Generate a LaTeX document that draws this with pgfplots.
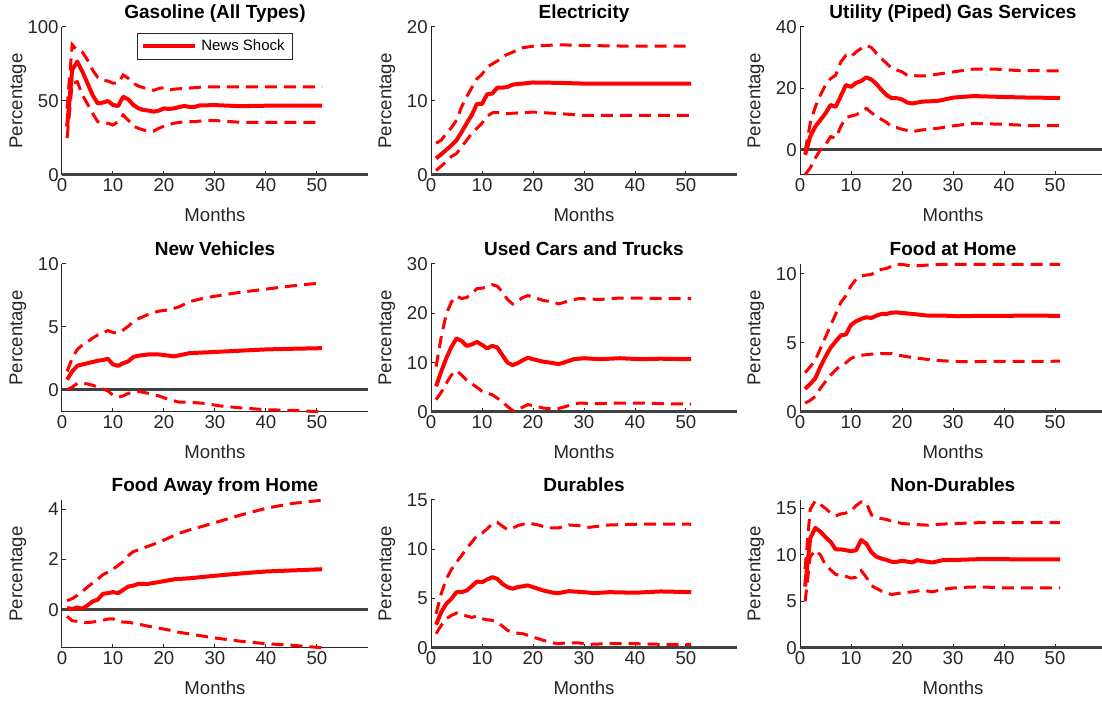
\documentclass[border=0pt]{standalone}
\usepackage{pgfplots}
\pgfplotsset{compat=1.18}
\usepackage{fontspec}
\setmainfont{Liberation Sans}
\definecolor{axc}{rgb}{0.15,0.15,0.15}
\definecolor{zc}{rgb}{0.25,0.25,0.25}
\newcommand\lab{\fontsize{9.3}{11}\selectfont}
\newcommand\ttl{\fontsize{9.5}{11}\selectfont\bfseries}

\pgfplotsset{
  panel/.style={
    anchor=south west,
    width=153pt, height=74pt, scale only axis,
    xmin=0, xmax=60, xtick={0,10,...,50},
    enlargelimits=false, clip=false,
    axis lines=left,
    axis line style={-, draw=axc, line width=0.5pt},
    tick align=inside, major tick length=2pt,
    tick style={draw=axc, line width=0.5pt},
    /pgf/number format/assume math mode=true,
    ticklabel style={font=\lab, text=axc},
    xticklabel style={inner sep=1.5pt},
    yticklabel style={inner sep=1.5pt},
    xlabel={Months}, ylabel={Percentage},
    label style={font=\lab, text=axc},
    xlabel style={at={(axis description cs:0.5,-0.27)}, anchor=center},
    ylabel style={at={(axis description cs:-0.144,0.5)}, anchor=center},
    every axis title/.style={at={(axis description cs:0.5,1)}, anchor=base,
      yshift=4.2pt, font=\ttl, text=black},
  },
  zero/.style={draw=zc, line width=1.5pt, forget plot},
  band/.style={red, line width=1.5pt, dash pattern=on 6pt off 3.5pt, forget plot},
  mid/.style={red, line width=2pt, line join=round},
}

\begin{document}
\begin{tikzpicture}
\useasboundingbox (0,0) rectangle (551pt,352pt);

% Gasoline
\begin{axis}[panel, at={(31pt,264.5pt)}, ymin=0, ymax=100, ytick={0,50,100},
  title={Gasoline (All Types)},
  legend style={at={(0.5,0.96)}, anchor=north, draw=axc, line width=0.4pt,
    font=\fontsize{7.5}{9}\selectfont, inner xsep=2pt, inner ysep=1pt},
  legend image code/.code={\draw[#1] (0pt,0pt) -- (26pt,0pt);}]
\addplot[zero] coordinates {(0,0) (60,0)};
\addplot[band] coordinates {(1,45)(2,88)(3,84)(4,83)(5,77.7)(6,71)(7,66)(8,64)(9,63.5)(10,62)(11,62)(12,67.6)(13,65.3)(14,62)(15,60)(16,59)(17,58)(18,57.2)(19,58.5)(20,59)(21,57.4)(22,58)(24,58.5)(26,59)(28,59.6)(35,59.6)(51,59.6)};
\addplot[band] coordinates {(1,25)(2,62)(3,63)(4,54)(5,48)(6,41.7)(7,36)(8,35.4)(9,35)(10,33.8)(11,36)(12,40.5)(13,37)(14,33)(15,31.5)(16,30.4)(17,29.7)(18,29.7)(19,31.6)(20,33)(22,35)(24,36)(26,36)(28,36.8)(30,36.8)(35,35.6)(51,35.6)};
\addplot[mid] coordinates {(1,32.7)(2,71)(3,76.6)(4,69.8)(5,62)(6,54)(7,48.4)(8,48.9)(9,50)(10,47.3)(11,46.6)(12,52.9)(13,51.1)(14,47.3)(15,45)(16,43.9)(17,43.5)(18,42.8)(19,43.5)(20,45)(21,44.6)(22,45)(23,46)(24,46.6)(25,46)(26,46)(27,47)(30,47.2)(35,46.5)(40,46.8)(45,46.8)(51,46.8)};
\addlegendentry{News Shock}
\end{axis}

% Electricity
\begin{axis}[panel, at={(215.5pt,264.5pt)}, ymin=0, ymax=20, ytick={0,10,20},
  title={Electricity}]
\addplot[zero] coordinates {(0,0) (60,0)};
\addplot[band] coordinates {(1,4.3)(2,4.7)(3,5.6)(4,6.4)(5,7.4)(6,9.2)(7,10.6)(8,11.8)(9,13)(10,13.6)(11,14.6)(12,15)(13,15.4)(14,16)(15,16.3)(16,16.6)(18,17.2)(20,17.4)(25,17.6)(30,17.5)(40,17.4)(51,17.4)};
\addplot[band] coordinates {(1,0.6)(2,1.2)(3,1.8)(4,2.5)(5,2.9)(6,3.8)(7,4.7)(8,5.6)(9,6.3)(10,7)(11,7.9)(12,8.4)(13,8.45)(15,8.3)(20,8.5)(25,8.3)(30,8.05)(40,8.05)(51,8.05)};
\addplot[mid] coordinates {(1,2.25)(2,2.8)(3,3.4)(4,4)(5,4.7)(6,5.8)(7,7)(8,8.1)(9,9.6)(10,9.6)(11,10.9)(12,11)(13,11.8)(14,11.8)(15,11.9)(16,12.2)(17,12.3)(18,12.35)(20,12.5)(25,12.45)(30,12.35)(40,12.35)(51,12.35)};
\end{axis}

% Utility (piped) gas
\begin{axis}[panel, at={(400pt,264.5pt)}, ymin=-8.2, ymax=40, ytick={0,20,40},
  title={Utility (Piped) Gas Services}]
\addplot[zero] coordinates {(0,0) (60,0)};
\addplot[band] coordinates {(1,-0.5)(2,8.6)(3,14)(4,17.8)(5,21.1)(6,23.2)(7,24.3)(8,28.6)(9,30.8)(10,30.3)(11,31.9)(12,33)(13,34)(14,33.3)(15,31.4)(16,29.7)(17,28.1)(18,26.5)(20,25.4)(21,24.3)(23,24.1)(25,24.1)(28,24.9)(31,25.6)(34,26.3)(38,26.3)(43,25.8)(51,25.7)};
\addplot[band] coordinates {(1,-8.1)(2,-5.9)(3,-2.7)(4,0)(5,1.6)(6,4.3)(7,3.8)(8,7.6)(9,10.5)(10,11)(11,11.4)(12,12.4)(13,13.5)(14,12.1)(15,10.8)(16,9.9)(17,8.9)(18,7.4)(19,7.2)(20,6.7)(21,6.3)(22,5.9)(24,6.5)(27,7)(30,7.8)(34,8.6)(40,8.3)(45,7.9)(51,7.9)};
\addplot[mid] coordinates {(1,-1.6)(2,4.3)(3,7.6)(4,9.7)(5,11.9)(6,14.6)(7,14)(8,17.5)(9,21.1)(10,20.5)(11,21.8)(12,22.4)(13,23.6)(14,22.9)(15,21.4)(16,19.5)(17,17.8)(18,16.8)(19,16.8)(20,16.4)(21,15.4)(22,15.1)(24,15.7)(27,15.9)(30,17)(34,17.5)(40,17.2)(45,17)(51,16.9)};
\end{axis}

% New vehicles
\begin{axis}[panel, at={(31pt,146pt)}, ymin=-1.78, ymax=10, ytick={0,5,10},
  title={New Vehicles}]
\addplot[zero] coordinates {(0,0) (60,0)};
\addplot[band] coordinates {(1,1.45)(2,2.5)(3,3.2)(4,3.55)(5,3.8)(6,4.1)(7,4.35)(8,4.5)(9,4.7)(10,4.55)(11,4.5)(12,4.75)(13,5.05)(14,5.4)(15,5.65)(17,6.0)(19,6.25)(21,6.35)(23,6.6)(25,7.0)(28,7.3)(31,7.5)(35,7.75)(40,8.0)(45,8.25)(51,8.5)};
\addplot[band] coordinates {(1,0.0)(2,0.2)(3,0.5)(4,0.5)(5,0.45)(6,0.35)(7,0.2)(8,0.05)(9,-0.1)(10,-0.45)(11,-0.6)(12,-0.5)(13,-0.3)(14,-0.2)(15,-0.15)(17,-0.3)(19,-0.5)(21,-0.8)(23,-1.0)(25,-1.0)(28,-1.1)(31,-1.3)(35,-1.45)(40,-1.6)(45,-1.65)(51,-1.77)};
\addplot[mid] coordinates {(1,0.8)(2,1.45)(3,1.9)(4,2.0)(5,2.1)(6,2.2)(7,2.3)(8,2.35)(9,2.45)(10,2.0)(11,1.9)(12,2.1)(13,2.25)(14,2.6)(15,2.7)(17,2.8)(19,2.8)(22,2.65)(25,2.9)(30,3.0)(35,3.1)(40,3.2)(45,3.25)(51,3.3)};
\end{axis}

% Used cars and trucks
\begin{axis}[panel, at={(215.5pt,146pt)}, ymin=0, ymax=30, ytick={0,10,20,30},
  title={Used Cars and Trucks}]
\addplot[zero] coordinates {(0,0) (60,0)};
\addplot[band] coordinates {(1,9.2)(2,15.2)(3,19.9)(4,22.3)(5,23.5)(6,23)(7,23.2)(8,24)(9,25)(10,25.1)(11,25.3)(12,25.8)(13,25.5)(14,24.3)(15,22.8)(16,21.9)(17,22.5)(18,23.2)(19,23.6)(20,23.3)(22,22.6)(24,22.3)(25,21.9)(27,22.5)(29,23)(33,22.8)(37,23.1)(41,23.1)(45,23)(51,23)};
\addplot[band] coordinates {(1,2.5)(2,4)(3,5.8)(4,7.5)(5,8.4)(6,7.5)(7,6.4)(8,5.7)(9,5)(10,4.2)(11,3.8)(12,3.5)(13,2.8)(14,2.1)(15,1.1)(16,0.3)(17,0.5)(18,1)(19,1.5)(20,1.3)(22,0.8)(24,0.6)(25,0.7)(27,1.3)(29,1.8)(33,1.7)(37,1.8)(41,1.8)(45,1.7)(51,1.6)};
\addplot[mid] coordinates {(1,5.2)(2,8.2)(3,10.9)(4,13.2)(5,14.9)(6,14.4)(7,13.4)(8,13.7)(9,14.2)(10,13.6)(11,12.9)(12,13.4)(13,13.1)(14,11.5)(15,10)(16,9.5)(17,9.9)(18,10.5)(19,11)(20,10.7)(22,10.2)(24,9.9)(25,9.7)(26,10)(28,10.7)(30,10.9)(33,10.7)(37,10.9)(41,10.7)(45,10.8)(51,10.7)};
\end{axis}

% Food at home
\begin{axis}[panel, at={(400pt,146pt)}, ymin=0, ymax=10.7, ytick={0,5,10},
  title={Food at Home}]
\addplot[zero] coordinates {(0,0) (60,0)};
\addplot[band] coordinates {(1,2.84)(2,3.27)(3,3.75)(4,4.58)(5,5.42)(6,6.25)(7,7.09)(8,7.92)(9,8.4)(10,9.12)(11,9.6)(12,9.83)(13,9.9)(14,9.95)(15,10.19)(16,10.31)(17,10.38)(18,10.55)(19,10.67)(20,10.67)(22,10.55)(25,10.62)(28,10.67)(35,10.67)(51,10.67)};
\addplot[band] coordinates {(1,0.64)(2,0.84)(3,1.12)(4,1.72)(5,2.2)(6,2.67)(7,3.03)(8,3.39)(9,3.56)(10,3.87)(11,4.03)(12,4.1)(14,4.18)(16,4.22)(18,4.22)(20,4.06)(22,3.94)(25,3.8)(28,3.7)(31,3.65)(35,3.65)(51,3.67)};
\addplot[mid] coordinates {(1,1.67)(2,2.03)(3,2.43)(4,3.27)(5,4.0)(6,4.65)(7,5.1)(8,5.54)(9,5.6)(10,6.3)(11,6.56)(12,6.73)(13,6.85)(14,6.8)(15,6.97)(16,7.09)(17,7.09)(18,7.18)(19,7.2)(20,7.16)(22,7.09)(25,6.97)(28,6.97)(31,6.92)(35,6.95)(40,6.95)(45,6.97)(51,6.95)};
\end{axis}

% Food away from home
\begin{axis}[panel, at={(31pt,28pt)}, ymin=-1.52, ymax=4.36, ytick={0,2,4},
  title={Food Away from Home}]
\addplot[zero] coordinates {(0,0) (60,0)};
\addplot[band] coordinates {(1,0.36)(2,0.44)(3,0.57)(4,0.73)(5,0.9)(6,1.06)(7,1.21)(8,1.39)(9,1.49)(10,1.61)(11,1.76)(12,1.91)(13,2.15)(14,2.31)(15,2.38)(17,2.53)(19,2.68)(21,2.86)(23,3.04)(25,3.17)(28,3.34)(31,3.52)(35,3.76)(40,4.03)(45,4.22)(51,4.35)};
\addplot[band] coordinates {(1,-0.26)(2,-0.44)(3,-0.46)(4,-0.49)(5,-0.51)(6,-0.49)(7,-0.46)(8,-0.42)(9,-0.37)(10,-0.36)(11,-0.46)(12,-0.49)(13,-0.5)(15,-0.57)(17,-0.66)(19,-0.73)(21,-0.81)(23,-0.9)(25,-0.96)(28,-1.06)(31,-1.15)(35,-1.25)(40,-1.35)(45,-1.41)(51,-1.51)};
\addplot[mid] coordinates {(1,0.07)(2,0.03)(3,0.09)(4,0.04)(5,0.17)(6,0.33)(7,0.4)(8,0.63)(9,0.66)(10,0.7)(11,0.66)(12,0.79)(13,0.92)(14,0.96)(15,1.03)(17,1.03)(19,1.1)(22,1.21)(25,1.25)(30,1.35)(35,1.44)(40,1.52)(45,1.56)(51,1.61)};
\end{axis}

% Durables
\begin{axis}[panel, at={(215.5pt,28pt)}, ymin=0, ymax=15, ytick={0,5,10,15},
  title={Durables}]
\addplot[zero] coordinates {(0,0) (60,0)};
\addplot[band] coordinates {(1,3.47)(2,5.49)(3,7.01)(4,7.95)(5,8.7)(6,9.37)(7,10.11)(8,10.72)(9,11.39)(10,11.63)(11,12.07)(12,12.57)(13,12.74)(14,12.34)(15,12.0)(16,12.13)(17,12.4)(19,12.67)(21,12.47)(23,12.17)(25,12.17)(27,12.47)(29,12.4)(31,12.23)(35,12.47)(40,12.54)(45,12.57)(51,12.54)};
\addplot[band] coordinates {(1,1.45)(2,2.29)(3,2.97)(4,3.3)(5,3.54)(6,3.37)(7,3.24)(8,3.1)(9,3.24)(10,2.97)(11,2.86)(12,2.8)(13,2.63)(14,2.22)(15,1.79)(16,1.55)(18,1.45)(19,1.28)(20,1.11)(22,0.78)(24,0.51)(25,0.44)(27,0.54)(29,0.51)(31,0.37)(35,0.44)(40,0.44)(45,0.37)(51,0.37)};
\addplot[mid] coordinates {(1,2.36)(2,3.64)(3,4.48)(4,4.99)(5,5.66)(6,5.66)(7,5.83)(8,6.27)(9,6.74)(10,6.67)(11,6.94)(12,7.18)(13,7.01)(14,6.5)(15,6.17)(16,6.0)(17,6.17)(19,6.34)(20,6.17)(22,5.83)(24,5.6)(25,5.56)(27,5.76)(30,5.66)(32,5.56)(35,5.66)(40,5.6)(45,5.73)(51,5.66)};
\end{axis}

% Non-durables
\begin{axis}[panel, at={(400pt,28pt)}, ymin=0, ymax=15.9, ytick={0,5,10,15},
  title={Non-Durables}]
\addplot[zero] coordinates {(0,0) (60,0)};
\addplot[band] coordinates {(1,8.5)(2,14.9)(3,15.8)(4,15.4)(5,15)(6,14.5)(7,14.2)(8,14.4)(9,14.5)(10,14.7)(11,15.3)(12,15.7)(13,15.6)(14,14.3)(15,14)(17,13.8)(18,13.6)(19,13.5)(20,13.38)(22,13.28)(25,13.2)(28,13.31)(31,13.38)(35,13.46)(51,13.46)};
\addplot[band] coordinates {(1,5.0)(2,9.8)(3,10.5)(4,10.0)(5,8.9)(6,8.4)(7,7.9)(8,7.8)(9,7.7)(10,7.5)(11,7.6)(12,8.3)(13,7.6)(14,6.7)(15,6.4)(16,6.1)(17,5.9)(18,5.74)(19,5.85)(20,5.92)(22,6.03)(24,6.21)(26,6.03)(28,6.31)(31,6.49)(35,6.57)(40,6.46)(45,6.46)(51,6.46)};
\addplot[mid] coordinates {(1,6.6)(2,11.8)(3,12.9)(4,12.5)(5,11.9)(6,11.4)(7,10.6)(8,10.6)(9,10.5)(10,10.4)(11,10.5)(12,11.6)(13,11.2)(14,10.3)(15,9.8)(16,9.6)(17,9.45)(18,9.26)(19,9.26)(20,9.37)(22,9.19)(23,9.44)(24,9.33)(26,9.19)(28,9.44)(31,9.47)(35,9.54)(40,9.54)(45,9.51)(51,9.51)};
\end{axis}
\end{tikzpicture}
\end{document}
